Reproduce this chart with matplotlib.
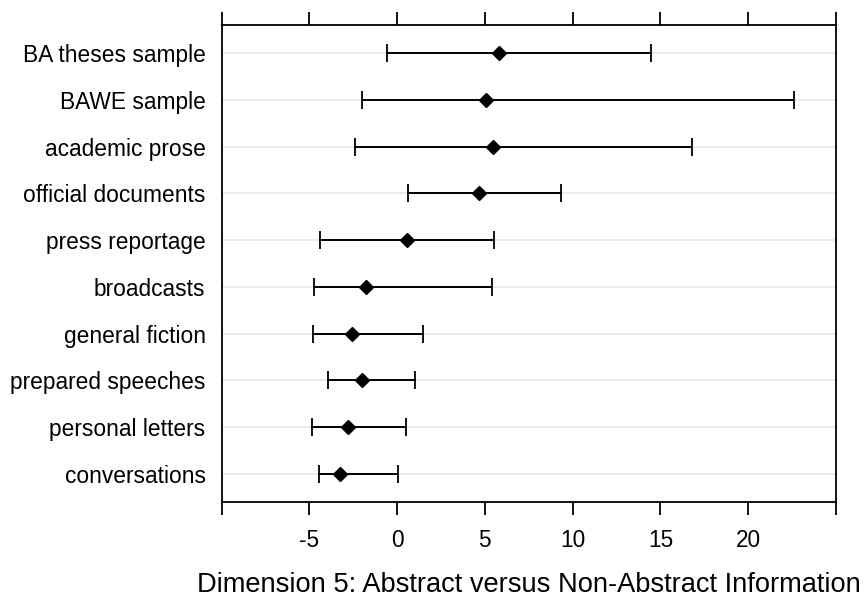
import matplotlib
matplotlib.use("Agg")
import matplotlib.pyplot as plt
import numpy as np

plt.rcParams['font.family'] = ['Liberation Sans', 'DejaVu Sans']

categories = ["BA theses sample", "BAWE sample", "academic prose", "official documents",
              "press reportage", "broadcasts", "general fiction", "prepared speeches",
              "personal letters", "conversations"]
centers = [5.79, 5.09, 5.48, 4.67, 0.56, -1.76, -2.55, -1.97, -2.81, -3.27]
lows = [-0.60, -2.00, -2.39, 0.63, -4.39, -4.71, -4.81, -3.92, -4.84, -4.46]
highs = [14.45, 22.60, 16.78, 9.32, 5.53, 5.40, 1.50, 1.01, 0.53, 0.08]
xticks = [-10, -5, 0, 5, 10, 15, 20, 25]
xticklabels = ["", "-5", "0", "5", "10", "15", "20", ""]
xlabel = "Dimension 5: Abstract versus Non-Abstract Information"

W, H = 867, 602
fig = plt.figure(figsize=(W / 100, H / 100), dpi=100)
ax = fig.add_axes([221.5 / W, 1 - 502 / H, (836 - 221.5) / W, (502 - 25) / H])

n = len(categories)
ypos = np.arange(n, 0, -1)
c = np.array(centers)
lo = np.array(lows)
hi = np.array(highs)

for y in ypos:
    ax.axhline(y, color="#e8e8e8", lw=1.2, zorder=0)

ax.errorbar(c, ypos, xerr=[c - lo, hi - c], fmt="none", ecolor="black",
            elinewidth=1.4, capsize=6.5, capthick=1.3, zorder=2)
ax.plot(c, ypos, linestyle="none", marker="D", ms=6.8, color="black", zorder=3)

ax.set_xlim(-10, 25)
ax.set_ylim(0.4, n + 0.6)
ax.set_xticks(xticks)
ax.set_xticklabels(xticklabels, fontsize=16.3)
ax.set_yticks(ypos)
ax.set_yticklabels(categories, fontsize=16.4)
ax.tick_params(axis="x", which="both", direction="out", length=9.5, width=1.3,
               top=True, bottom=True, labeltop=False, pad=10)
ax.tick_params(axis="y", length=0, pad=11.5)
for s in ax.spines.values():
    s.set_linewidth(1.3)
ax.set_xlabel(xlabel, fontsize=19.6, labelpad=14)

fig.savefig("out.png", dpi=100)
